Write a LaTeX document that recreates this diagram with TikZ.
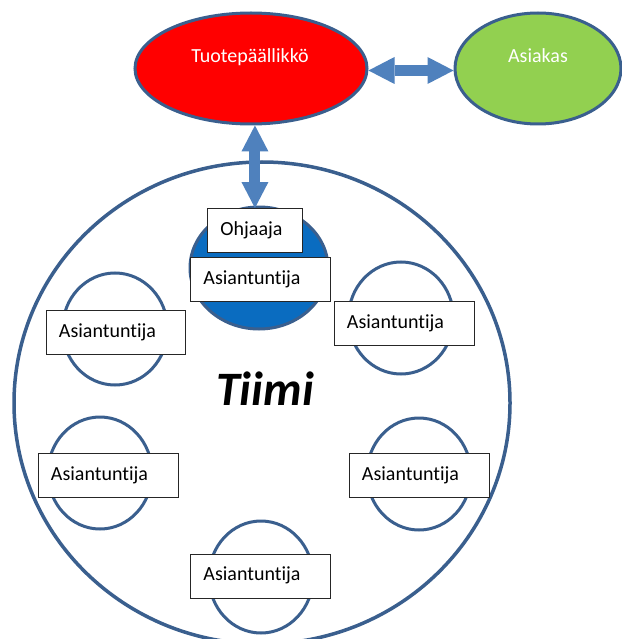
\documentclass[tikz,border=0pt]{standalone}
\usepackage{fontspec}
\setmainfont{Carlito}[Ligatures={NoCommon,NoContextual}]
\usetikzlibrary{arrows.meta,shapes.geometric}
\definecolor{outl}{HTML}{3A5F8E}
\definecolor{arrowblue}{HTML}{4F81BD}
\definecolor{leadblue}{HTML}{0A6CC0}
\definecolor{custgreen}{HTML}{92D050}
\begin{document}
\begin{tikzpicture}[x=1pt,y=-1pt,
  roleell/.style={ellipse, draw=outl, line width=3pt, inner sep=0pt},
  member/.style={ellipse, draw=outl, line width=3pt, fill=white, inner sep=0pt},
  ellabel/.style={text=white, font=\fontsize{20}{24}\selectfont, text height=14pt, text depth=4pt, inner sep=0pt},
  tag/.style={draw=black!85, line width=0.9pt, fill=white, rectangle, inner ysep=0pt, inner xsep=13pt,
    align=left, font=\fontsize{20}{24}\selectfont, text height=14pt, text depth=4pt,
    minimum height=44pt, anchor=north west},
  blockarrow/.style={draw=arrowblue, line width=11pt,
    {Triangle[length=26pt,width=27pt,line width=0pt]}-{Triangle[length=26pt,width=27pt,line width=0pt]}}
]
\useasboundingbox (0,0) rectangle (621,639);
\fill[white] (0,0) rectangle (621,639);

% top ellipses
\node[roleell, fill=red, minimum width=232pt, minimum height=111pt] (tp) at (251,68.5) {};
\node[ellabel] (tptext) at (250,57.7) {Tuotepäällikkö};
\node[roleell, fill=custgreen, minimum width=166pt, minimum height=111pt] (as) at (538,68.5) {};
\node[ellabel] (astext) at (538,57.7) {Asiakas};

% team
\node[member, line width=3.5pt, minimum width=496pt, minimum height=482pt] (team) at (262,403) {};
\node[font=\fontsize{48}{52}\selectfont\bfseries\itshape, inner sep=0pt] (tiimi) at (265,389) {Tiimi};

% member circles
\node[ellipse, draw=outl, line width=3pt, fill=leadblue, inner sep=0pt, minimum width=138pt, minimum height=122pt] (lead) at (259,268) {};
\node[member, minimum width=105pt, minimum height=112pt] (m1) at (115,329) {};
\node[member, minimum width=105pt, minimum height=112pt] (m2) at (401,318) {};
\node[member, minimum width=104pt, minimum height=112pt] (m3) at (100,473) {};
\node[member, minimum width=104pt, minimum height=112pt] (m4) at (419,474) {};
\node[member, minimum width=104pt, minimum height=112pt] (m5) at (261,577) {};

% labels
\node[tag, text width=69pt] (oh) at (207,208) {Ohjaaja};
\node[tag, text width=114pt] (a0) at (190,257) {Asiantuntija};
\node[tag, text width=113pt] (a1) at (45.5,310) {Asiantuntija};
\node[tag, text width=114pt] (a2) at (333.5,301) {Asiantuntija};
\node[tag, text width=114pt] (a3) at (37.5,453) {Asiantuntija};
\node[tag, text width=114pt] (a4) at (348.5,453) {Asiantuntija};
\node[tag, text width=114pt] (a5) at (190,553.5) {Asiantuntija};

% arrows
\draw[blockarrow] ([yshift=-2pt]tp.east) -- ([yshift=-2pt]as.west);
\draw[blockarrow] (oh.north |- tp.south) -- (oh.north);
\end{tikzpicture}
\end{document}
